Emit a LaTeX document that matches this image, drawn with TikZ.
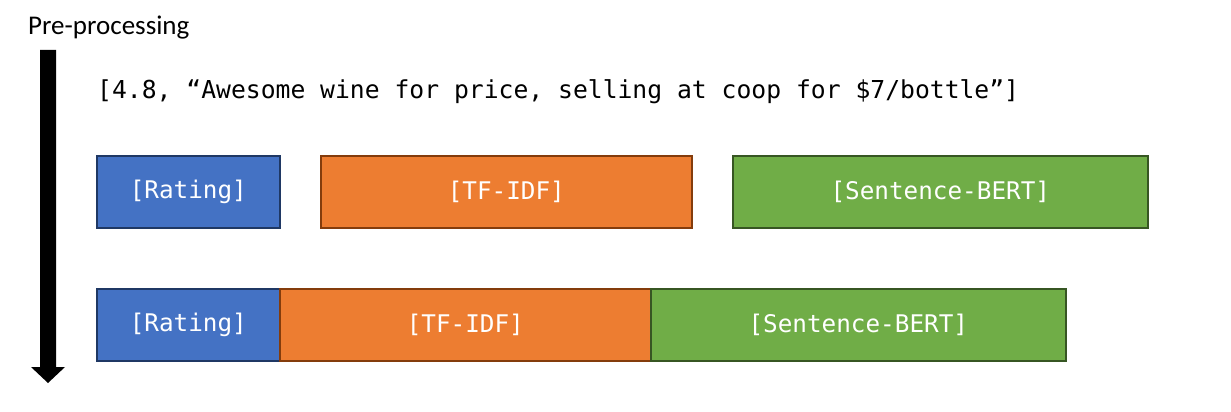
\documentclass[tikz,border=0pt]{standalone}
\usepackage{fontspec}
\setmainfont{Carlito}
\newfontfamily\monof{DejaVu Sans Mono}
\usetikzlibrary{arrows.meta}
\definecolor{cblue}{HTML}{4472C4}
\definecolor{cbluedk}{HTML}{1F3864}
\definecolor{corange}{HTML}{ED7D31}
\definecolor{corangedk}{HTML}{843C0C}
\definecolor{cgreen}{HTML}{70AD47}
\definecolor{cgreendk}{HTML}{375623}
\tikzset{
  featbox/.style={draw, line width=1.6pt, minimum height=72pt, inner sep=0pt,
    text=white, font=\monof\fontsize{24.3}{28}\selectfont},
  bluebox/.style={featbox, fill=cblue, draw=cbluedk},
  orangebox/.style={featbox, fill=corange, draw=corangedk},
  greenbox/.style={featbox, fill=cgreen, draw=cgreendk},
}
\begin{document}
\begin{tikzpicture}[x=1pt,y=-1pt]
\useasboundingbox (0,0) rectangle (1231,412);
% title
\node[anchor=base west, inner sep=0pt, font=\fontsize{27}{30}\selectfont] (title) at (28,35) {Pre-processing};
% arrow
\fill[black] (40,50) -- (56,50) -- (56,367) -- (65,367) -- (48,383) -- (31,367) -- (40,367) -- cycle;
% input line
\node[anchor=base west, inner sep=0pt, font=\monof\fontsize{24.7}{28}\selectfont] (input) at (97,99) {[4.8, “Awesome wine for price, selling at coop for \$7/bottle”]};
% row 1
\node[bluebox, minimum width=183pt, anchor=north west] (r1) at (96,155) {[Rating]};
\node[orangebox, minimum width=371pt, anchor=north west] (t1) at (320,155) {[TF-IDF]};
\node[greenbox, minimum width=415pt, anchor=north west] (s1) at (732,155) {[Sentence-BERT]};
% row 2
\node[bluebox, minimum width=183pt, anchor=north west] (r2) at (96,288) {[Rating]};
\node[orangebox, minimum width=371pt, anchor=north west] (t2) at (279,288) {[TF-IDF]};
\node[greenbox, minimum width=415pt, anchor=north west] (s2) at (650,288) {[Sentence-BERT]};
\end{tikzpicture}
\end{document}
